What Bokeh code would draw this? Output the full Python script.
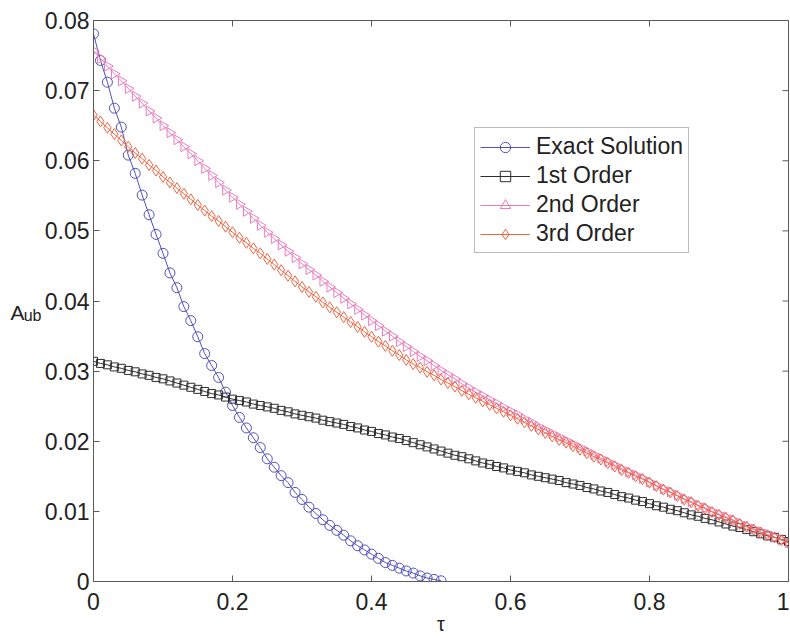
import math
from bokeh.plotting import figure
from bokeh.models import (Legend, LegendItem, LinearAxis, FixedTicker, Range1d)
from bokeh.embed import file_html
from bokeh.resources import INLINE

# ---------------- data ----------------
tau_exact = [0.00, 0.01, 0.02, 0.03, 0.04, 0.05, 0.06, 0.07, 0.08, 0.09,
             0.10, 0.11, 0.12, 0.13, 0.14, 0.15, 0.16, 0.17, 0.18, 0.19,
             0.20, 0.21, 0.22, 0.23, 0.24, 0.25, 0.26, 0.27, 0.28, 0.29,
             0.30, 0.31, 0.32, 0.33, 0.34, 0.35, 0.36, 0.37, 0.38, 0.39,
             0.40, 0.41, 0.42, 0.43, 0.44, 0.45, 0.46, 0.47, 0.48, 0.49,
             0.50]
exact = [0.0781, 0.0743, 0.0712, 0.0675, 0.0648, 0.0608, 0.0582, 0.0551, 0.0523, 0.0495,
         0.0468, 0.0440, 0.0419, 0.0392, 0.0372, 0.0349, 0.0325, 0.0308, 0.0291, 0.0270,
         0.0251, 0.0234, 0.0219, 0.0205, 0.0191, 0.0175, 0.0163, 0.0151, 0.0141, 0.0127,
         0.0117, 0.0106, 0.0097, 0.0088, 0.0080, 0.0073, 0.0066, 0.0058, 0.0051, 0.0045,
         0.0039, 0.0033, 0.0027, 0.0023, 0.0019, 0.0015, 0.0012, 0.0008, 0.0005, 0.0003,
         0.0001]

tau = [0.00, 0.01, 0.02, 0.03, 0.04, 0.05, 0.06, 0.07, 0.08, 0.09,
       0.10, 0.11, 0.12, 0.13, 0.14, 0.15, 0.16, 0.17, 0.18, 0.19,
       0.20, 0.21, 0.22, 0.23, 0.24, 0.25, 0.26, 0.27, 0.28, 0.29,
       0.30, 0.31, 0.32, 0.33, 0.34, 0.35, 0.36, 0.37, 0.38, 0.39,
       0.40, 0.41, 0.42, 0.43, 0.44, 0.45, 0.46, 0.47, 0.48, 0.49,
       0.50, 0.51, 0.52, 0.53, 0.54, 0.55, 0.56, 0.57, 0.58, 0.59,
       0.60, 0.61, 0.62, 0.63, 0.64, 0.65, 0.66, 0.67, 0.68, 0.69,
       0.70, 0.71, 0.72, 0.73, 0.74, 0.75, 0.76, 0.77, 0.78, 0.79,
       0.80, 0.81, 0.82, 0.83, 0.84, 0.85, 0.86, 0.87, 0.88, 0.89,
       0.90, 0.91, 0.92, 0.93, 0.94, 0.95, 0.96, 0.97, 0.98, 0.99,
       1.00]

first_order = [0.0314, 0.0311, 0.0309, 0.0306, 0.0304, 0.0301, 0.0299, 0.0296, 0.0294, 0.0291,
               0.0289, 0.0286, 0.0283, 0.0280, 0.0277, 0.0274, 0.0271, 0.0268, 0.0266, 0.0263,
               0.0260, 0.0258, 0.0256, 0.0253, 0.0251, 0.0249, 0.0247, 0.0244, 0.0242, 0.0239,
               0.0237, 0.0235, 0.0233, 0.0230, 0.0228, 0.0226, 0.0224, 0.0221, 0.0219, 0.0216,
               0.0214, 0.0211, 0.0209, 0.0206, 0.0204, 0.0201, 0.0198, 0.0195, 0.0192, 0.0189,
               0.0186, 0.0183, 0.0180, 0.0178, 0.0175, 0.0172, 0.0169, 0.0167, 0.0164, 0.0162,
               0.0159, 0.0157, 0.0155, 0.0152, 0.0150, 0.0148, 0.0146, 0.0144, 0.0141, 0.0139,
               0.0137, 0.0134, 0.0132, 0.0129, 0.0127, 0.0124, 0.0121, 0.0119, 0.0116, 0.0114,
               0.0111, 0.0108, 0.0106, 0.0103, 0.0101, 0.0098, 0.0095, 0.0093, 0.0090, 0.0088,
               0.0085, 0.0082, 0.0079, 0.0077, 0.0074, 0.0071, 0.0068, 0.0065, 0.0063, 0.0060,
               0.0057]

second_order = [0.0757, 0.0746, 0.0735, 0.0724, 0.0714, 0.0703, 0.0692, 0.0682, 0.0671, 0.0661,
                0.0650, 0.0640, 0.0630, 0.0620, 0.0610, 0.0600, 0.0589, 0.0579, 0.0569, 0.0558,
                0.0548, 0.0538, 0.0528, 0.0518, 0.0508, 0.0498, 0.0489, 0.0480, 0.0471, 0.0462,
                0.0453, 0.0445, 0.0437, 0.0428, 0.0420, 0.0412, 0.0404, 0.0396, 0.0388, 0.0380,
                0.0372, 0.0365, 0.0357, 0.0350, 0.0342, 0.0335, 0.0328, 0.0321, 0.0315, 0.0308,
                0.0301, 0.0295, 0.0289, 0.0282, 0.0276, 0.0270, 0.0265, 0.0259, 0.0254, 0.0248,
                0.0243, 0.0238, 0.0232, 0.0227, 0.0221, 0.0216, 0.0211, 0.0206, 0.0201, 0.0196,
                0.0191, 0.0186, 0.0181, 0.0176, 0.0171, 0.0166, 0.0161, 0.0156, 0.0152, 0.0147,
                0.0142, 0.0137, 0.0132, 0.0128, 0.0123, 0.0118, 0.0114, 0.0109, 0.0105, 0.0100,
                0.0096, 0.0092, 0.0088, 0.0083, 0.0079, 0.0075, 0.0071, 0.0067, 0.0063, 0.0059,
                0.0055]

third_order = [0.0665, 0.0656, 0.0647, 0.0638, 0.0629, 0.0620, 0.0611, 0.0603, 0.0594, 0.0586,
               0.0577, 0.0569, 0.0561, 0.0553, 0.0545, 0.0537, 0.0529, 0.0521, 0.0514, 0.0506,
               0.0498, 0.0490, 0.0483, 0.0475, 0.0468, 0.0460, 0.0452, 0.0444, 0.0436, 0.0428,
               0.0420, 0.0413, 0.0406, 0.0398, 0.0391, 0.0384, 0.0377, 0.0370, 0.0363, 0.0356,
               0.0349, 0.0342, 0.0336, 0.0329, 0.0323, 0.0316, 0.0310, 0.0305, 0.0299, 0.0294,
               0.0288, 0.0283, 0.0278, 0.0272, 0.0267, 0.0262, 0.0257, 0.0252, 0.0247, 0.0242,
               0.0237, 0.0232, 0.0227, 0.0222, 0.0217, 0.0212, 0.0207, 0.0202, 0.0198, 0.0193,
               0.0188, 0.0183, 0.0178, 0.0174, 0.0169, 0.0164, 0.0159, 0.0155, 0.0150, 0.0146,
               0.0141, 0.0136, 0.0131, 0.0127, 0.0122, 0.0117, 0.0113, 0.0108, 0.0104, 0.0099,
               0.0095, 0.0091, 0.0087, 0.0082, 0.0078, 0.0074, 0.0070, 0.0066, 0.0063, 0.0059,
               0.0055]

series_names = ["Exact Solution", "1st Order", "2nd Order", "3rd Order"]
x_ticks = [0, 0.2, 0.4, 0.6, 0.8, 1.0]
x_tick_labels = ["0", "0.2", "0.4", "0.6", "0.8", "1"]
y_ticks = [0, 0.01, 0.02, 0.03, 0.04, 0.05, 0.06, 0.07, 0.08]
y_tick_labels = ["0", "0.01", "0.02", "0.03", "0.04", "0.05", "0.06", "0.07", "0.08"]
x_min, x_max = 0, 1
y_min, y_max = 0, 0.08
y_label_main = "A"
y_label_sub = "ub"
x_label = "τ"

# ---------------- styles ----------------
FONT = "Liberation Sans"
C_EXACT = "#5050bb"
C_FIRST = "#2e2e2e"
C_SECOND = "#ee7cbc"
C_THIRD = "#ee6440"
AXIS_C = "#5a5a5a"
TXT_C = "#222222"

p = figure(width=789, height=637, output_backend="svg", toolbar_location=None,
           x_range=Range1d(x_min, x_max), y_range=Range1d(y_min, y_max),
           min_border_left=93, min_border_right=1, min_border_top=20, min_border_bottom=54)
p.background_fill_color = "white"
p.border_fill_color = "white"
p.outline_line_color = AXIS_C
p.outline_line_width = 1
p.xgrid.visible = False
p.ygrid.visible = False

for ax in (p.xaxis[0], p.yaxis[0]):
    ax.axis_line_color = AXIS_C
    ax.major_tick_line_color = AXIS_C
    ax.major_tick_in = 6
    ax.major_tick_out = 0
    ax.minor_tick_line_color = None
    ax.major_label_text_font = FONT
    ax.major_label_text_font_size = "23px"
    ax.major_label_text_color = TXT_C

p.xaxis.ticker = FixedTicker(ticks=x_ticks)
p.xaxis.major_label_overrides = {t: l for t, l in zip(x_ticks, x_tick_labels)}
p.xaxis.major_label_standoff = 11
p.xaxis.axis_label = x_label
p.xaxis.axis_label_text_font = FONT
p.xaxis.axis_label_text_font_style = "normal"
p.xaxis.axis_label_text_font_size = "20px"
p.xaxis.axis_label_text_color = TXT_C
p.xaxis.axis_label_standoff = 0

p.yaxis.ticker = FixedTicker(ticks=y_ticks)
p.yaxis.major_label_overrides = {t: l for t, l in zip(y_ticks, y_tick_labels)}
p.yaxis.major_label_standoff = 4

# y label "A" with subscript "ub", written horizontally beside the 0.04 tick,
# carried by two label-only axes stacked left of the main y axis
pos_main = 0.0384
pos_sub = 0.0379
ax_sub = LinearAxis(ticker=FixedTicker(ticks=[pos_sub]),
                    major_label_overrides={pos_sub: y_label_sub},
                    axis_line_color=None, major_tick_line_color=None,
                    minor_tick_line_color=None, major_tick_in=0, major_tick_out=0,
                    major_label_standoff=0, major_label_text_font=FONT,
                    major_label_text_font_size="16px", major_label_text_color=TXT_C)
ax_main = LinearAxis(ticker=FixedTicker(ticks=[pos_main]),
                     major_label_overrides={pos_main: y_label_main},
                     axis_line_color=None, major_tick_line_color=None,
                     minor_tick_line_color=None, major_tick_in=0, major_tick_out=0,
                     major_label_standoff=-4, major_label_text_font=FONT,
                     major_label_text_font_size="21px", major_label_text_color=TXT_C)
p.add_layout(ax_sub, "left")
p.add_layout(ax_main, "left")

# ---------------- series ----------------
l0 = p.line(tau_exact, exact, line_color=C_EXACT, line_width=1)
s0 = p.scatter(tau_exact, exact, marker="circle", size=10, line_color=C_EXACT,
               fill_color=None, line_width=1)

l1 = p.line(tau, first_order, line_color=C_FIRST, line_width=1)
s1 = p.scatter(tau, first_order, marker="square", size=8, line_color=C_FIRST,
               fill_color=None, line_width=1)

l2 = p.line(tau, second_order, line_color=C_SECOND, line_width=1)
s2 = p.scatter(tau, second_order, marker="triangle", size=10, angle=-math.pi / 2,
               line_color=C_SECOND, fill_color=None, line_width=1)

l3 = p.line(tau, third_order, line_color=C_THIRD, line_width=1)
s3 = p.scatter(tau, third_order, marker="diamond", size=11, line_color=C_THIRD,
               fill_color=None, line_width=1)

# inward ticks mirrored on the top and right edges of the box
p.scatter(x_ticks, [y_max] * len(x_ticks), marker="dash", angle=math.pi / 2, size=12,
          line_color=AXIS_C, line_width=1)
p.scatter([x_max] * len(y_ticks), y_ticks, marker="dash", size=12,
          line_color=AXIS_C, line_width=1)

legend = Legend(items=[
    LegendItem(label=series_names[0], renderers=[l0, s0]),
    LegendItem(label=series_names[1], renderers=[l1, s1]),
    LegendItem(label=series_names[2], renderers=[l2, s2]),
    LegendItem(label=series_names[3], renderers=[l3, s3]),
], location=(381, 328))
legend.margin = 0
legend.padding = 5
legend.spacing = 2
legend.glyph_width = 50
legend.glyph_height = 26
legend.label_standoff = 6
legend.label_text_font = FONT
legend.label_text_font_size = "23px"
legend.label_text_color = TXT_C
legend.border_line_color = "#7a7a7a"
legend.border_line_width = 1
legend.background_fill_color = "white"
legend.background_fill_alpha = 1
p.add_layout(legend, "center")

open("out.html", "w").write(file_html(p, INLINE))
